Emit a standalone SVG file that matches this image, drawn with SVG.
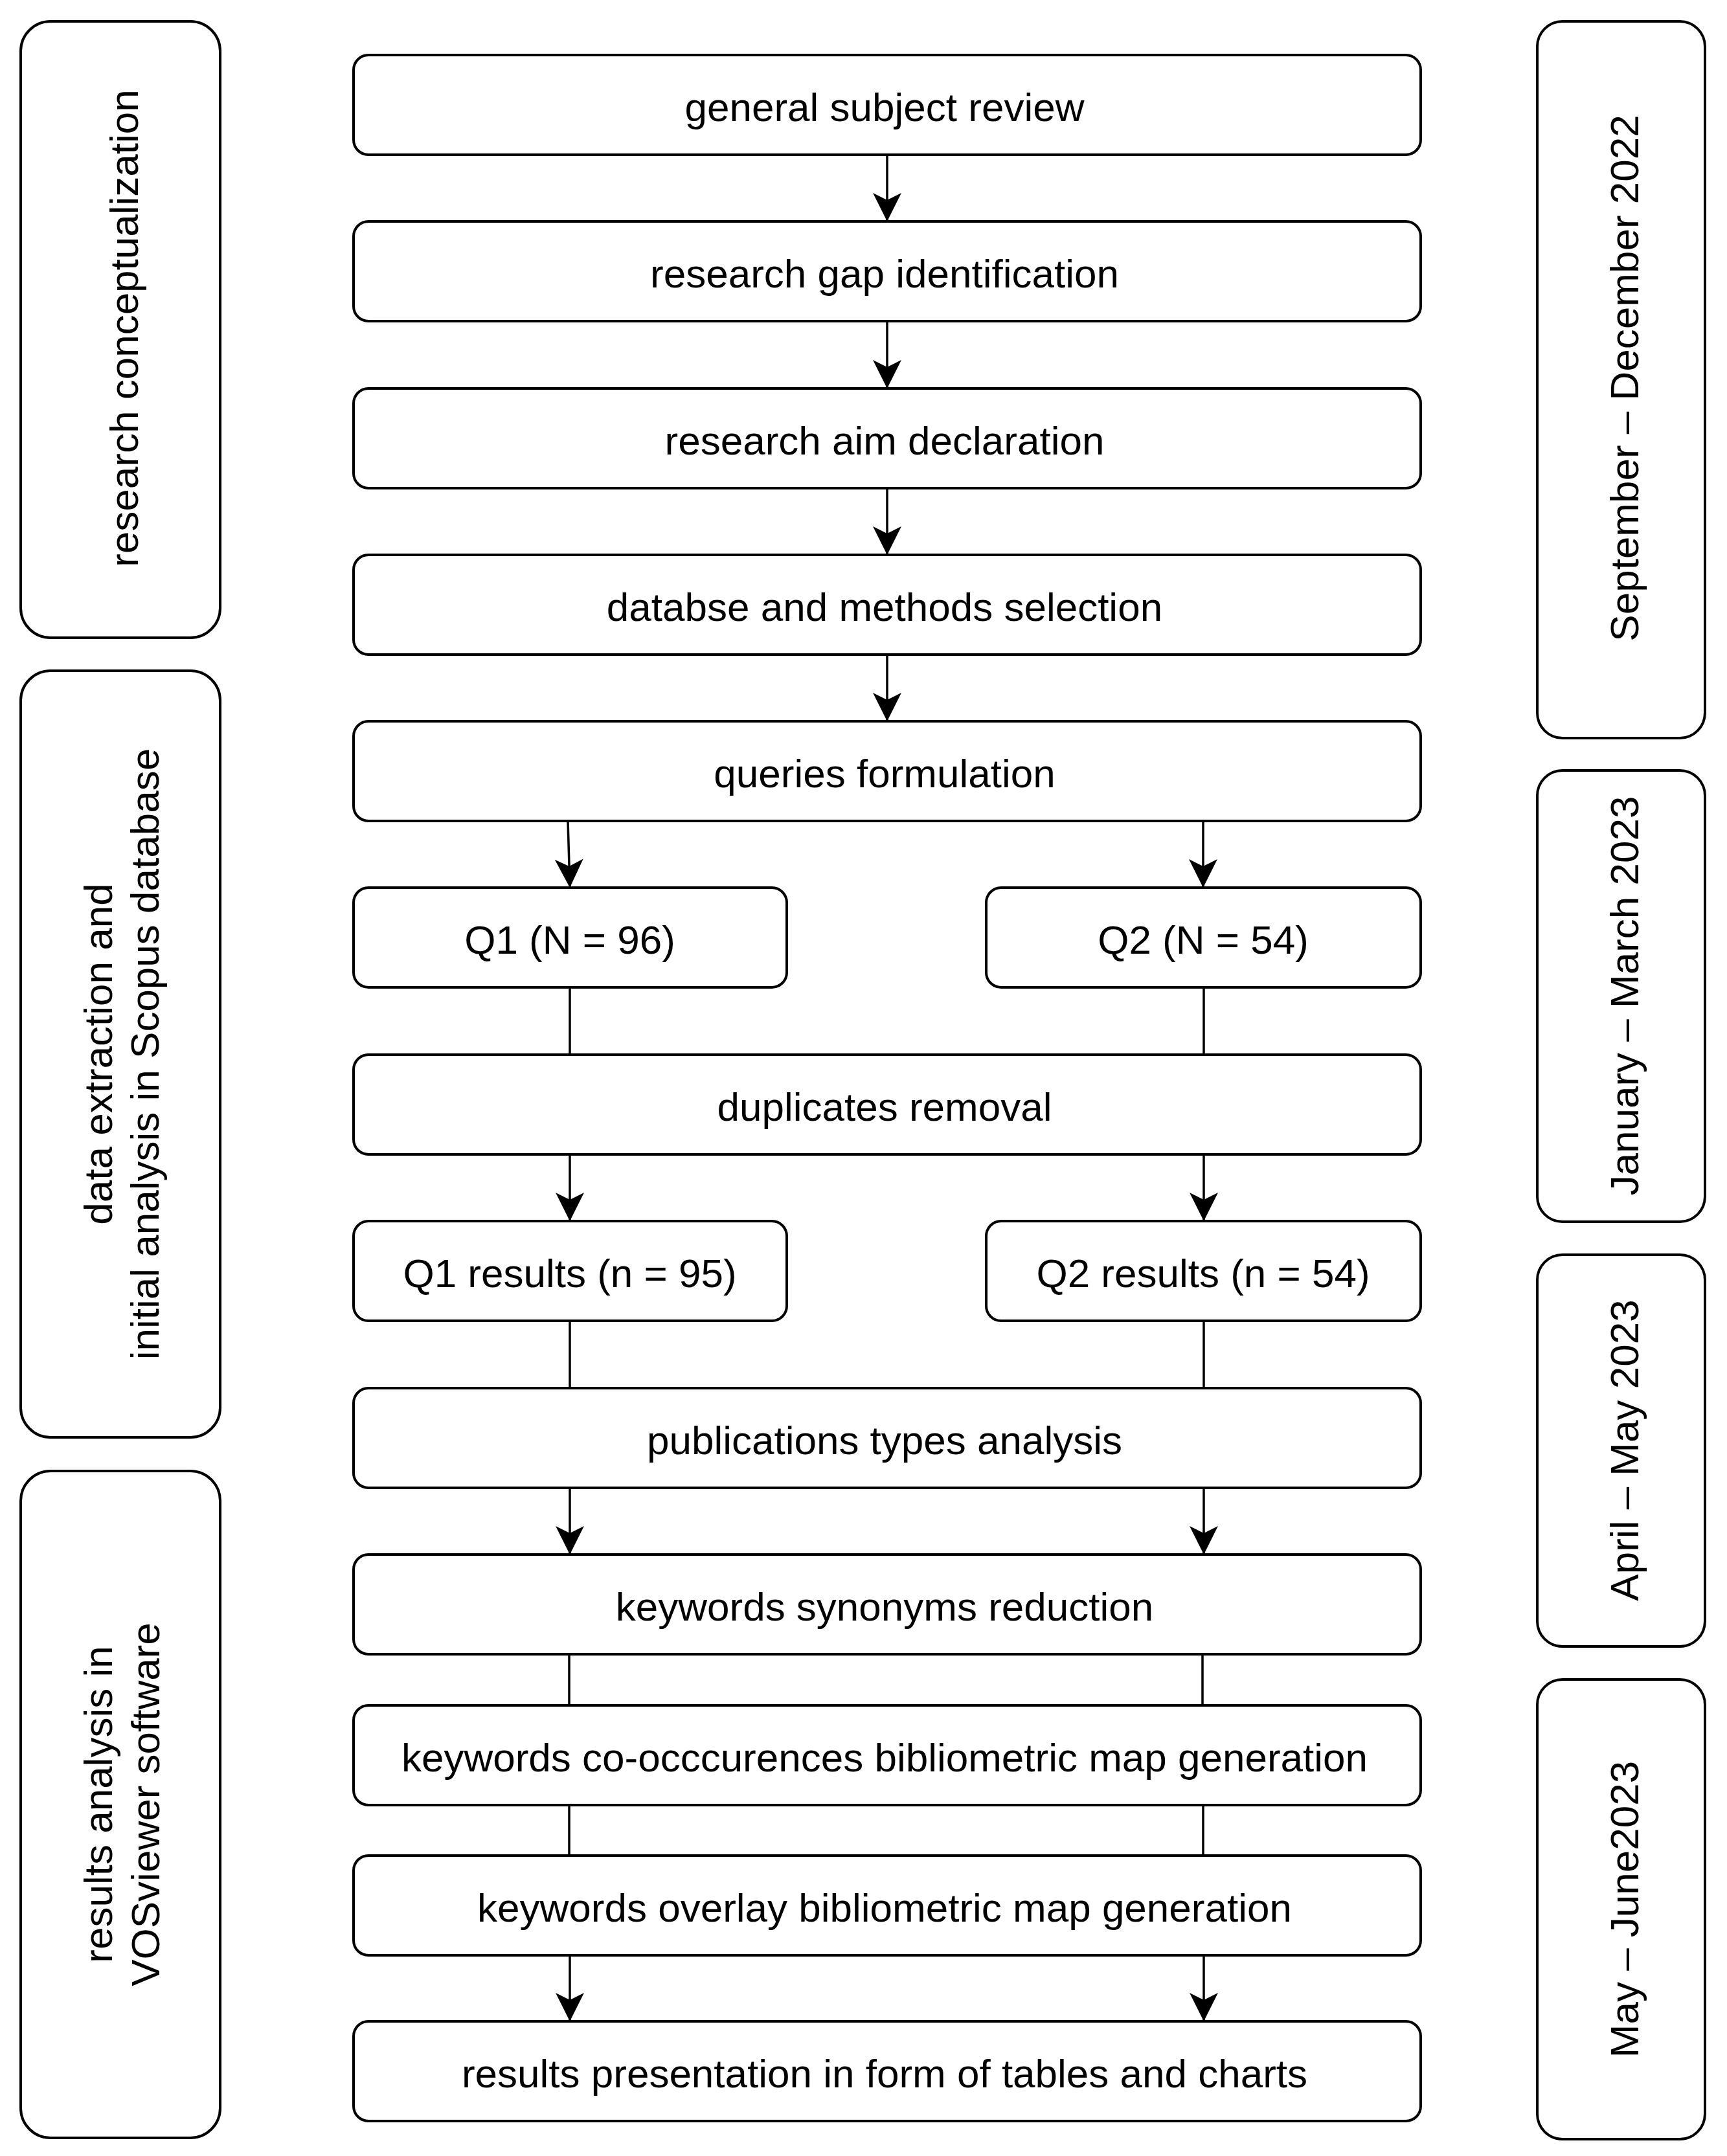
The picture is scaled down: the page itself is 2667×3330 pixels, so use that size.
<svg xmlns="http://www.w3.org/2000/svg" width="2667" height="3330" viewBox="0 0 2667 3330">
<style>
.box{fill:#fff;stroke:#000;stroke-width:4}
.t{font-family:"Liberation Sans",Arial,sans-serif;font-size:62px;fill:#000;text-anchor:middle}
.c{fill:none;stroke:#000;stroke-width:3.5}
.a{marker-end:url(#arr)}
</style>
<defs>
<marker id="arr" markerUnits="userSpaceOnUse" markerWidth="50" markerHeight="50" viewBox="0 0 50 50" refX="46" refY="23" orient="auto">
<path d="M2,1 L46,23 L2,45 L13,23 Z" fill="#000"/>
</marker>
</defs>
<rect width="2667" height="3330" fill="#fff"/>

<g id="phase-left-1"><rect class="box" x="32" y="33" width="308" height="952" rx="46"/><text class="t" transform="translate(213,507) rotate(-90)">research conceptualization</text></g>
<g id="phase-left-2"><rect class="box" x="32" y="1036" width="308" height="1184" rx="46"/><text class="t" transform="translate(173,1628) rotate(-90)"><tspan x="0" y="0">data extraction and</tspan><tspan x="0" y="72">initial analysis in Scopus database</tspan></text></g>
<g id="phase-left-3"><rect class="box" x="32" y="2272" width="308" height="1030" rx="46"/><text class="t" transform="translate(173,2787) rotate(-90)"><tspan x="0" y="0">results analysis in</tspan><tspan x="0" y="73">VOSviewer software</tspan></text></g>

<g id="time-1"><rect class="box" x="2374" y="33" width="259" height="1107" rx="39"/><text class="t" transform="translate(2530,584) rotate(-90)">September – December 2022</text></g>
<g id="time-2"><rect class="box" x="2374" y="1190" width="259" height="697" rx="39"/><text class="t" transform="translate(2530,1538) rotate(-90)">January – March 2023</text></g>
<g id="time-3"><rect class="box" x="2374" y="1938" width="259" height="605" rx="39"/><text class="t" transform="translate(2530,2240) rotate(-90)">April – May 2023</text></g>
<g id="time-4"><rect class="box" x="2374" y="2594" width="259" height="710" rx="39"/><text class="t" transform="translate(2530,2949) rotate(-90)">May – June2023</text></g>

<g id="connectors">
<path class="c a" d="M1370,239 L1370,342"/>
<path class="c a" d="M1370,496 L1370,600"/>
<path class="c a" d="M1370,754 L1370,857"/>
<path class="c a" d="M1370,1011 L1370,1114"/>
<path class="c a" d="M877,1268 L880,1371"/>
<path class="c a" d="M1858,1268 L1858,1371"/>
<path class="c" d="M880,1525 L880,1629"/>
<path class="c" d="M1859,1525 L1859,1629"/>
<path class="c a" d="M880,1783 L880,1886"/>
<path class="c a" d="M1859,1783 L1859,1886"/>
<path class="c" d="M880,2040 L880,2144"/>
<path class="c" d="M1859,2040 L1859,2144"/>
<path class="c a" d="M880,2298 L880,2401"/>
<path class="c a" d="M1859,2298 L1859,2401"/>
<path class="c" d="M879,2555 L879,2634"/>
<path class="c" d="M1857,2555 L1857,2634"/>
<path class="c" d="M879,2788 L879,2866"/>
<path class="c" d="M1858,2788 L1858,2866"/>
<path class="c a" d="M880,3020 L880,3122"/>
<path class="c a" d="M1859,3020 L1859,3122"/>
</g>

<g id="n1"><rect class="box" x="546" y="85" width="1648" height="154" rx="23"/><text class="t" x="1366" y="187">general subject review</text></g>
<g id="n2"><rect class="box" x="546" y="342" width="1648" height="154" rx="23"/><text class="t" x="1366" y="444">research gap identification</text></g>
<g id="n3"><rect class="box" x="546" y="600" width="1648" height="154" rx="23"/><text class="t" x="1366" y="702">research aim declaration</text></g>
<g id="n4"><rect class="box" x="546" y="857" width="1648" height="154" rx="23"/><text class="t" x="1366" y="959">databse and methods selection</text></g>
<g id="n5"><rect class="box" x="546" y="1114" width="1648" height="154" rx="23"/><text class="t" x="1366" y="1216">queries formulation</text></g>
<g id="n6a"><rect class="box" x="546" y="1371" width="669" height="154" rx="23"/><text class="t" x="880" y="1473">Q1 (N = 96)</text></g>
<g id="n6b"><rect class="box" x="1523" y="1371" width="671" height="154" rx="23"/><text class="t" x="1858" y="1473">Q2 (N = 54)</text></g>
<g id="n7"><rect class="box" x="546" y="1629" width="1648" height="154" rx="23"/><text class="t" x="1366" y="1731">duplicates removal</text></g>
<g id="n8a"><rect class="box" x="546" y="1886" width="669" height="154" rx="23"/><text class="t" x="880" y="1988">Q1 results (n = 95)</text></g>
<g id="n8b"><rect class="box" x="1523" y="1886" width="671" height="154" rx="23"/><text class="t" x="1858" y="1988">Q2 results (n = 54)</text></g>
<g id="n9"><rect class="box" x="546" y="2144" width="1648" height="154" rx="23"/><text class="t" x="1366" y="2246">publications types analysis</text></g>
<g id="n10"><rect class="box" x="546" y="2401" width="1648" height="154" rx="23"/><text class="t" x="1366" y="2503">keywords synonyms reduction</text></g>
<g id="n11"><rect class="box" x="546" y="2634" width="1648" height="154" rx="23"/><text class="t" x="1366" y="2736">keywords co-occcurences bibliometric map generation</text></g>
<g id="n12"><rect class="box" x="546" y="2866" width="1648" height="154" rx="23"/><text class="t" x="1366" y="2968">keywords overlay bibliometric map generation</text></g>
<g id="n13"><rect class="box" x="546" y="3122" width="1648" height="154" rx="23"/><text class="t" x="1366" y="3224">results presentation in form of tables and charts</text></g>
</svg>
